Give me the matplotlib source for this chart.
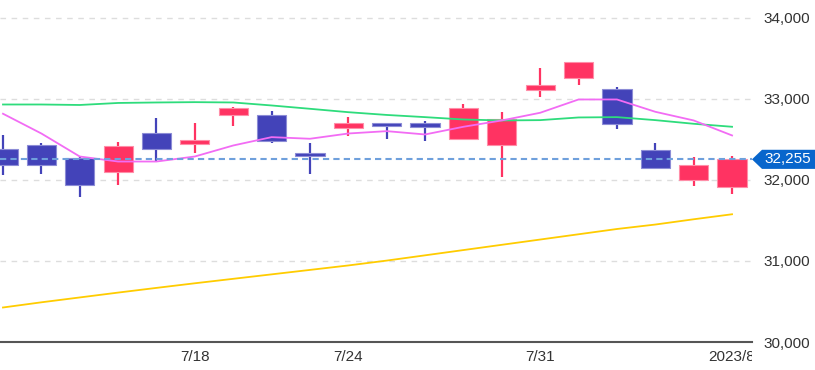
import numpy as np
import matplotlib
matplotlib.use("Agg")
from matplotlib import pyplot as plt
from matplotlib.patches import Polygon
from matplotlib.transforms import blended_transform_factory, Bbox, TransformedBbox, ScaledTranslation

plt.rcParams['font.family'] = ['Liberation Sans', 'DejaVu Sans']

# daily candles, 2023/7/10 - 2023/8/7
dates = ['7/10', '7/11', '7/12', '7/13', '7/14', '7/18', '7/19', '7/20', '7/21', '7/24',
         '7/25', '7/26', '7/27', '7/28', '7/31', '8/1', '8/2', '8/3', '8/4', '8/7']
opens = [32385, 32426, 32274, 32096, 32583, 32442, 32797, 32800, 32336, 32636,
         32698, 32698, 32509, 32430, 33114, 33257, 33118, 32373, 32006, 31911]
highs = [32550, 32459, 32280, 32472, 32768, 32706, 32900, 32850, 32451, 32781,
         32707, 32726, 32932, 32837, 33386, 33460, 33151, 32459, 32287, 32294]
lows = [32056, 32080, 31793, 31944, 32220, 32336, 32664, 32459, 32077, 32541,
        32500, 32479, 32492, 32035, 33023, 33176, 32624, 32138, 31923, 31830]
closes = [32179, 32191, 31932, 32414, 32377, 32492, 32892, 32479, 32294, 32698,
          32664, 32652, 32883, 32756, 33167, 33452, 32694, 32146, 32188, 32255]

# moving averages (5 / 25 / 75 day)
ma5 = [32818, 32574, 32290, 32228, 32228, 32290, 32426, 32529, 32509, 32574,
       32603, 32562, 32657, 32735, 32830, 32994, 32994, 32842, 32735, 32550]
ma25 = [32932, 32932, 32926, 32951, 32957, 32961, 32957, 32920, 32879, 32837,
        32803, 32776, 32747, 32735, 32739, 32772, 32776, 32739, 32694, 32657]
ma75 = [30426, 30490, 30550, 30610, 30668, 30725, 30780, 30835, 30890, 30945,
        31005, 31070, 31135, 31200, 31265, 31330, 31395, 31450, 31515, 31577]

tick_idx = [5, 9, 14, 19]
tick_txt = ['7/18', '7/24', '7/31', '2023/8/7']
last_price = 32255

up_col = '#ff3362'
dn_col = '#4343b9'

fig = plt.figure(figsize=(8.15, 3.7), dpi=100)
ax = fig.add_axes([0, 28 / 370, 752 / 815, 342 / 370])

x = np.arange(len(dates))
o = np.array(opens)
c = np.array(closes)
up = c >= o
cols = np.where(up, up_col, dn_col)
edges = np.where(up, '#ff8ea8', '#8c8cd6')

ax.vlines(x, lows, highs, colors=cols, lw=1.6, zorder=2)
h = np.where(np.abs(c - o) < 30, 30 * np.sign(c - o + 0.1), c - o)
ax.bar(x, h, bottom=o, width=0.76, color=cols, edgecolor=edges, lw=0.8, zorder=3)

ax.plot(x, ma75, color='#ffcc00', lw=1.3, zorder=4)
ax.plot(x, ma25, color='#2edc7c', lw=1.3, zorder=4)
ax.plot(x, ma5, color='#f26cf4', lw=1.3, zorder=4)

ax.axhline(last_price, color='#6fa0dc', lw=1.5, ls=(0, (3, 2)), zorder=5)

ax.set_xlim(-0.078, 19.52)
ax.set_ylim(30000, 34222)
ax.set_yticks([30000, 31000, 32000, 33000, 34000])
ax.set_yticklabels(['30,000', '31,000', '32,000', '33,000', '34,000'])
ax.yaxis.tick_right()
ax.set_xticks(tick_idx)
ax.set_xticklabels(tick_txt)
ax.tick_params(axis='both', length=0, labelsize=11, labelcolor='#333333')
ax.tick_params(axis='y', pad=8)
ax.tick_params(axis='x', pad=6)
ax.grid(axis='y', color='#dddddd', lw=1, ls=(0, (4, 4)), zorder=0)
ax.set_axisbelow(True)
for s in ['top', 'left', 'right']:
    ax.spines[s].set_visible(False)
ax.spines['bottom'].set_color('#555555')
ax.spines['bottom'].set_linewidth(1.5)
ax.spines['bottom'].set_zorder(6)

# clip x labels at plot's right edge
clip = TransformedBbox(Bbox([[0, -1], [1, 1]]), ax.transAxes)
labs = ax.get_xticklabels()
for lab in labs:
    lab.set_clip_box(clip)
    lab.set_clip_on(True)
labs[-1].set_transform(labs[-1].get_transform() + ScaledTranslation(6 / 100, 0, fig.dpi_scale_trans))

# current price tag
tr = blended_transform_factory(ax.transAxes, ax.transData)
r = 815 / 752
dy = 118
tag = Polygon([[1.0, last_price], [1.0133, last_price + dy], [r, last_price + dy],
               [r, last_price - dy], [1.0133, last_price - dy]],
              closed=True, transform=tr, facecolor='#0866cc', edgecolor='none',
              clip_on=False, zorder=7)
ax.add_patch(tag)
ax.text(1.048, last_price, '{:,}'.format(last_price), transform=tr, color='white',
        fontsize=11, ha='center', va='center', zorder=8, clip_on=False)

fig.savefig('out.png', dpi=100)
